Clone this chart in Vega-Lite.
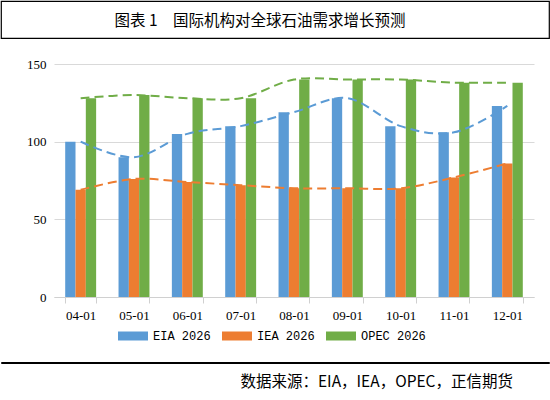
{
  "$schema": "https://vega.github.io/schema/vega-lite/v6.json",
  "description": "International agencies' 2026 global oil demand growth forecasts by release month.",
  "padding": {"top": 0, "left": 0, "right": 1, "bottom": 0},
  "background": "white",
  "spacing": 19,
  "resolve": {
    "scale": {"color": "independent", "stroke": "independent"},
    "legend": {"color": "independent", "stroke": "independent"}
  },
  "config": {
    "font": "Noto Sans CJK SC",
    "title": {"font": "Noto Sans CJK SC", "fontWeight": "normal", "color": "black"}
  },
  "datasets": {
    "forecast": [
      {"month": "04-01", "series": "EIA 2026", "value": 100},
      {"month": "05-01", "series": "EIA 2026", "value": 90},
      {"month": "06-01", "series": "EIA 2026", "value": 105},
      {"month": "07-01", "series": "EIA 2026", "value": 110},
      {"month": "08-01", "series": "EIA 2026", "value": 119},
      {"month": "09-01", "series": "EIA 2026", "value": 128},
      {"month": "10-01", "series": "EIA 2026", "value": 110},
      {"month": "11-01", "series": "EIA 2026", "value": 106},
      {"month": "12-01", "series": "EIA 2026", "value": 123},
      {"month": "04-01", "series": "IEA 2026", "value": 69},
      {"month": "05-01", "series": "IEA 2026", "value": 76},
      {"month": "06-01", "series": "IEA 2026", "value": 74},
      {"month": "07-01", "series": "IEA 2026", "value": 72},
      {"month": "08-01", "series": "IEA 2026", "value": 70},
      {"month": "09-01", "series": "IEA 2026", "value": 70},
      {"month": "10-01", "series": "IEA 2026", "value": 70},
      {"month": "11-01", "series": "IEA 2026", "value": 77},
      {"month": "12-01", "series": "IEA 2026", "value": 86},
      {"month": "04-01", "series": "OPEC 2026", "value": 128},
      {"month": "05-01", "series": "OPEC 2026", "value": 130},
      {"month": "06-01", "series": "OPEC 2026", "value": 128},
      {"month": "07-01", "series": "OPEC 2026", "value": 128},
      {"month": "08-01", "series": "OPEC 2026", "value": 140},
      {"month": "09-01", "series": "OPEC 2026", "value": 140},
      {"month": "10-01", "series": "OPEC 2026", "value": 140},
      {"month": "11-01", "series": "OPEC 2026", "value": 138},
      {"month": "12-01", "series": "OPEC 2026", "value": 138}
    ],
    "empty": []
  },
  "vconcat": [
    {
      "width": 548,
      "height": 37,
      "view": {"stroke": "black", "strokeWidth": 1.2},
      "title": {
        "text": "图表 1　国际机构对全球石油需求增长预测",
        "fontSize": 15.5,
        "offset": -28,
        "dx": -15
      },
      "data": {"name": "empty"},
      "mark": "text"
    },
    {
      "width": 548,
      "height": 233,
      "view": {"stroke": null},
      "data": {"name": "forecast"},
      "encoding": {
        "x": {
          "field": "month",
          "type": "nominal",
          "scale": {"paddingInner": 0.42, "paddingOuter": 0.21, "range": [53, 533]},
          "axis": {
            "title": null,
            "labelAngle": 0,
            "labelFont": "Liberation Serif",
            "labelFontSize": 13,
            "labelColor": "black",
            "labelPadding": 6,
            "domainColor": "#D0D0D0",
            "tickColor": "#D0D0D0",
            "tickSize": 6,
            "tickBand": "extent"
          }
        },
        "y": {
          "field": "value",
          "type": "quantitative",
          "scale": {"domain": [0, 150]},
          "axis": {
            "title": null,
            "values": [0, 50, 100, 150],
            "labelFont": "Liberation Serif",
            "labelFontSize": 13,
            "labelColor": "black",
            "labelPadding": 8,
            "offset": -53,
            "domain": false,
            "ticks": false,
            "gridColor": "#D9D9D9"
          }
        }
      },
      "layer": [
        {
          "mark": {"type": "bar"},
          "encoding": {
            "xOffset": {"field": "series", "type": "nominal", "scale": {"paddingInner": 0, "paddingOuter": 0}},
            "color": {
              "field": "series",
              "type": "nominal",
              "scale": {
                "domain": ["EIA 2026", "IEA 2026", "OPEC 2026"],
                "range": ["#5B9BD5", "#ED7D31", "#70AD47"]
              },
              "legend": {
                "title": null,
                "orient": "none",
                "legendX": 117,
                "legendY": 257,
                "direction": "horizontal",
                "symbolType": "M-1,-0.3H1V0.3H-1Z",
                "symbolSize": 900,
                "symbolStrokeWidth": 0,
                "labelFont": "Liberation Mono",
                "labelFontSize": 12,
                "labelColor": "black",
                "labelOffset": 5,
                "columnPadding": 11
              }
            }
          }
        },
        {
          "mark": {"type": "line", "interpolate": "cardinal", "strokeWidth": 2, "strokeDash": [9, 5]},
          "encoding": {
            "stroke": {
              "field": "series",
              "type": "nominal",
              "scale": {
                "domain": ["EIA 2026", "IEA 2026", "OPEC 2026"],
                "range": ["#5B9BD5", "#ED7D31", "#70AD47"]
              },
              "legend": null
            }
          }
        }
      ]
    },
    {
      "width": 548,
      "height": 1,
      "view": {"stroke": "black", "strokeWidth": 1},
      "title": {
        "text": "数据来源：EIA，IEA，OPEC，正信期货",
        "orient": "bottom",
        "anchor": "end",
        "fontSize": 15.5,
        "offset": 12,
        "dx": -36
      },
      "data": {"name": "empty"},
      "mark": "text"
    }
  ]
}
